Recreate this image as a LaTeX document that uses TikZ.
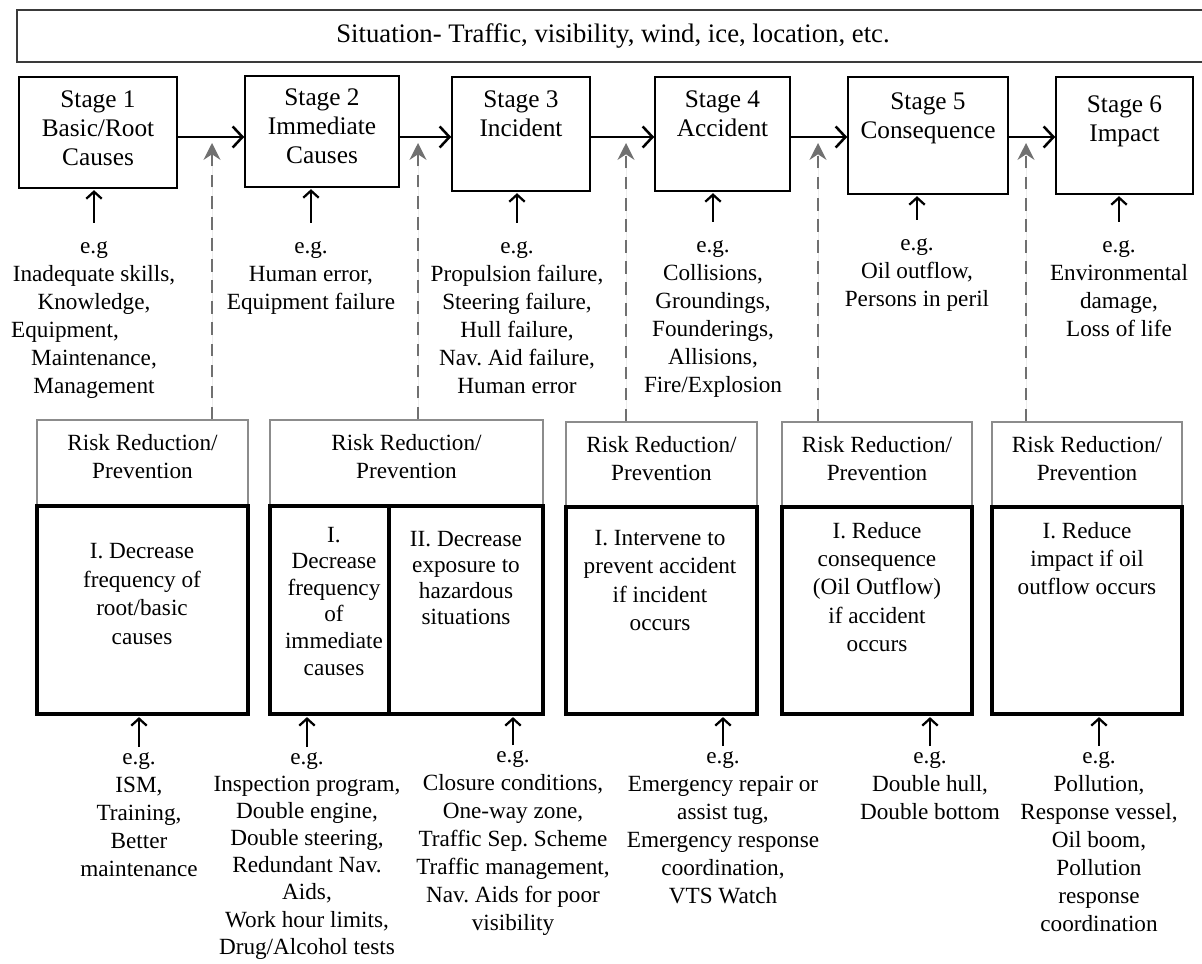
\documentclass[tikz,border=0pt]{standalone}
\usepackage{fontspec}
\setmainfont{Liberation Serif}
\usepackage{tikz}
\usetikzlibrary{arrows.meta,positioning,fit}
\definecolor{ctrlgray}{HTML}{707070}
\definecolor{hdrgray}{HTML}{8C8C8C}
\definecolor{framegray}{HTML}{3A3A3A}
\newcommand{\bodysize}{\fontsize{16.5}{19.9}\selectfont}
\newcommand{\stagesize}{\fontsize{18}{20.6}\selectfont}
\newcommand{\sitsize}{\fontsize{19}{23}\selectfont}
\frenchspacing

\begin{document}
\begin{tikzpicture}[
  x=0.025cm, y=-0.025cm,
  font=\bodysize,
  stagebox/.style={draw, line width=1.1pt, inner sep=0pt},
  hdrbox/.style={draw=hdrgray, line width=0.8pt, inner sep=0pt},
  measbox/.style={draw, line width=2.4pt, inner sep=0pt},
  lbl/.style={align=center, inner sep=0pt, anchor=north},
  stagelbl/.style={lbl, font=\stagesize},
  flow/.style={-{Straight Barb[length=7pt,width=15pt]}, line width=1.8pt},
  feed/.style={-{Straight Barb[length=5pt,width=11pt]}, line width=1.6pt, shorten >=1pt},
  ctrl/.style={-{Stealth[length=12pt,width=12pt,inset=4pt]}, draw=ctrlgray, fill=ctrlgray, line width=1.4pt, dash pattern=on 9pt off 6pt}
]
\useasboundingbox (0,0) rectangle (1202,964);

% Situation
\node[draw=framegray, line width=1pt, minimum width=29.8cm, minimum height=1.3cm, font=\sitsize] (sit) at (613,36) {Situation- Traffic, visibility, wind, ice, location, etc.};

% Stage row
\node[stagebox, fit={(19,77)(177,188)}] (s1) {};
\node[stagebox, fit={(245,76)(399,187)}] (s2) {};
\node[stagebox, fit={(452,77)(590,191)}] (s3) {};
\node[stagebox, fit={(655,77)(790,191)}] (s4) {};
\node[stagebox, fit={(848,77)(1008,194)}] (s5) {};
\node[stagebox, fit={(1056,77)(1193,194)}] (s6) {};
\node[stagelbl, below=0.35cm of s1.north] (s1l) {Stage 1\\Basic/Root\\Causes};
\node[stagelbl, below=0.33cm of s2.north] (s2l) {Stage 2\\Immediate\\Causes};
\node[stagelbl, below=0.35cm of s3.north] (s3l) {Stage 3\\Incident};
\node[stagelbl, below=0.35cm of s4.north] (s4l) {Stage 4\\Accident};
\node[stagelbl, below=0.4cm of s5.north] (s5l) {Stage 5\\Consequence};
\node[stagelbl, below=0.48cm of s6.north] (s6l) {Stage 6\\Impact};

\coordinate (lvl) at (0,137);
\foreach \a/\b in {s1/s2,s2/s3,s3/s4,s4/s5,s5/s6}
  \draw[flow] (\a.east |- lvl) -- (\b.west |- lvl);

% Examples under the stages
\node[lbl] (e1) at (94,241) {e.g\\Inadequate skills,\\Knowledge,\\\hspace*{-1.45cm}Equipment,\\Maintenance,\\Management};
\node[lbl] (e2) at (311,241) {e.g.\\Human error,\\Equipment failure};
\node[lbl] (e3) at (517,241) {e.g.\\Propulsion failure,\\Steering failure,\\Hull failure,\\Nav. Aid failure,\\Human error};
\node[lbl] (e4) at (713,240) {e.g.\\Collisions,\\Groundings,\\Founderings,\\Allisions,\\Fire/Explosion};
\node[lbl] (e5) at (917,238) {e.g.\\Oil outflow,\\Persons in peril};
\node[lbl] (e6) at (1119,240) {e.g.\\Environmental\\damage,\\Loss of life};
\foreach \n in {1,...,6}
  \draw[feed] ([yshift=0.45cm]e\n.north) -- (e\n.north |- s\n.south);

% Risk reduction boxes
\node[hdrbox, fit={(37,420)(248,506)}] (h1) {};
\node[hdrbox, fit={(270,420)(543,506)}] (h2) {};
\node[hdrbox, fit={(566,422)(757,507)}] (h3) {};
\node[hdrbox, fit={(782,422)(972,507)}] (h4) {};
\node[hdrbox, fit={(992,422)(1182,507)}] (h5) {};
\foreach \n in {1,...,5}
  \node[align=center, inner sep=0pt] (h\n l) at ([yshift=0.15cm]h\n.center) {Risk Reduction/\\Prevention};

\node[measbox, fit={(37,506)(248,714)}] (m1) {};
\node[measbox, fit={(270,506)(389,714)}] (m2a) {};
\node[measbox, fit={(389,506)(543,714)}] (m2b) {};
\node[measbox, fit={(566,507)(757,714)}] (m3) {};
\node[measbox, fit={(782,507)(972,714)}] (m4) {};
\node[measbox, fit={(992,507)(1182,714)}] (m5) {};
\node[lbl, font=\fontsize{16.5}{20.3}\selectfont] (m1l) at (142,543) {I. Decrease\\frequency of\\root/basic\\causes};
\node[lbl, font=\fontsize{16.5}{18.85}\selectfont] (m2al) at (334,527) {I.\\Decrease\\frequency\\of\\immediate\\causes};
\node[lbl, font=\fontsize{16.5}{18.5}\selectfont] (m2bl) at (466,531) {II. Decrease\\exposure to\\hazardous\\situations};
\node[lbl, font=\fontsize{16.5}{20.1}\selectfont] (m3l) at (660,530) {I. Intervene to\\prevent accident\\if incident\\occurs};
\node[lbl, font=\fontsize{16.5}{20.1}\selectfont] (m4l) at (877,522) {I. Reduce\\consequence\\(Oil Outflow)\\if accident\\occurs};
\node[lbl, font=\fontsize{16.5}{20.1}\selectfont] (m5l) at (1087,522) {I. Reduce\\impact if oil\\outflow occurs};

% Control links
\coordinate (t1) at (212,143);
\coordinate (t2) at (418,143);
\coordinate (t3) at (626,143);
\coordinate (t4) at (818,143);
\coordinate (t5) at (1026,143);
\foreach \n in {1,...,5}
  \draw[ctrl] (h\n.north -| t\n) -- (t\n);

% Examples under the measures
\node[lbl] (b1) at (139,752) {e.g.\\ISM,\\Training,\\Better\\maintenance};
\node[lbl, font=\fontsize{16.5}{19.3}\selectfont] (b2a) at (307,752) {e.g.\\Inspection program,\\Double engine,\\Double steering,\\Redundant Nav.\\Aids,\\Work hour limits,\\Drug/Alcohol tests};
\node[lbl] (b2b) at (513,750) {e.g.\\Closure conditions,\\One-way zone,\\Traffic Sep. Scheme\\Traffic management,\\Nav. Aids for poor\\visibility};
\node[lbl] (b3) at (723,751) {e.g.\\Emergency repair or\\assist tug,\\Emergency response\\coordination,\\VTS Watch};
\node[lbl] (b4) at (930,751) {e.g.\\Double hull,\\Double bottom};
\node[lbl] (b5) at (1099,751) {e.g.\\Pollution,\\Response vessel,\\Oil boom,\\Pollution\\response\\coordination};
\foreach \b/\m in {b1/m1,b2a/m2a,b2b/m2b,b3/m3,b4/m4,b5/m5}
  \draw[feed] ([yshift=0.125cm]\b.north) -- (\b.north |- \m.south);
\end{tikzpicture}
\end{document}
